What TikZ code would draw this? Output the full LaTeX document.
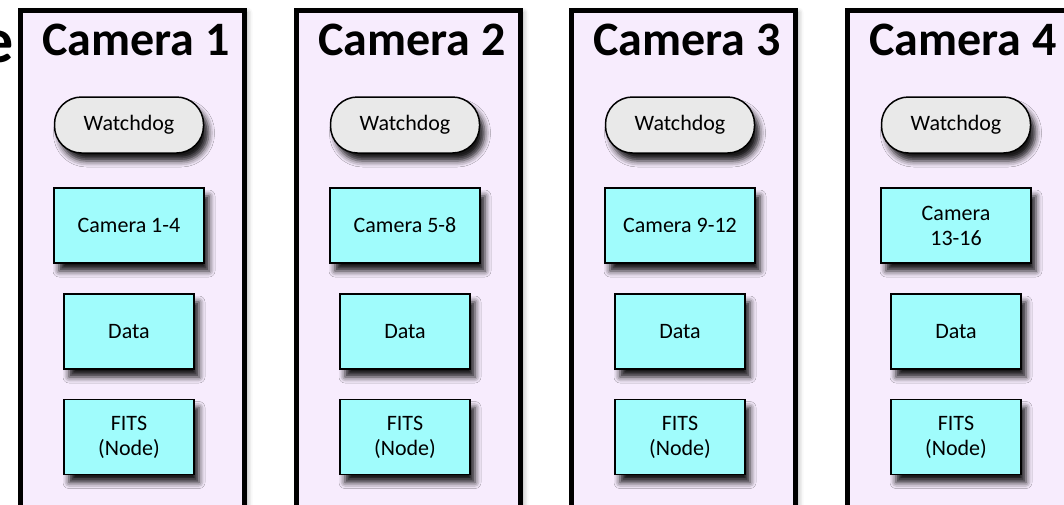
\documentclass[tikz,border=0pt]{standalone}
\usepackage{fontspec}
\setmainfont{Carlito}
\usetikzlibrary{shadows.blur}
\definecolor{panelfill}{RGB}{247,236,253}
\definecolor{boxfill}{RGB}{160,252,252}
\definecolor{wdfill}{RGB}{233,233,233}

\begin{document}
\begin{tikzpicture}[x=1pt,y=-1pt,
  panelbox/.style={draw=black,line width=5pt,fill=panelfill,
    blur shadow={shadow xshift=3pt,shadow yshift=-2pt,shadow blur radius=5pt,shadow opacity=35}},
  titlelabel/.style={font=\fontsize{48}{54}\selectfont\bfseries,anchor=base,inner sep=0pt},
  wdbox/.style={draw=black,line width=1.5pt,fill=wdfill,rounded corners=27pt,
    minimum width=149pt,minimum height=56pt,inner sep=0pt,font=\fontsize{22}{25}\selectfont,
    blur shadow={shadow xshift=5pt,shadow yshift=-8pt,shadow blur radius=6pt,shadow opacity=90}},
  cambox/.style={draw=black,line width=1.5pt,fill=boxfill,align=center,
    minimum width=150pt,minimum height=75pt,inner sep=0pt,font=\fontsize{22}{25}\selectfont,
    blur shadow={shadow xshift=5pt,shadow yshift=-8pt,shadow blur radius=6pt,shadow opacity=90}},
  databox/.style={cambox,minimum width=130pt}]
\useasboundingbox (0,0) rectangle (1064,504);
\clip (0,0) rectangle (1064,504);
%% slide text behind;
\node [font=\fontsize{64}{70}\selectfont\bfseries,anchor=base east,inner sep=0pt] (slidee) at (14,62) {e};

%% Camera 1;
\draw [panelbox] (20.5,10.5) rectangle (244.5,540);
\node [titlelabel] (title1) at (136,55) {Camera 1};
\node [wdbox] (wd1) at (129,125) {Watchdog};
\node [cambox] (cam1) at (129,225.5) {Camera 1-4};
\node [databox] (data1) at (129,331.5) {Data};
\node [databox] (fits1) at (129,437) {FITS\\(Node)};

%% Camera 2;
\draw [panelbox] (296.5,10.5) rectangle (520.5,540);
\node [titlelabel] (title2) at (412,55) {Camera 2};
\node [wdbox] (wd2) at (405,125) {Watchdog};
\node [cambox] (cam2) at (405,225.5) {Camera 5-8};
\node [databox] (data2) at (405,331.5) {Data};
\node [databox] (fits2) at (405,437) {FITS\\(Node)};

%% Camera 3;
\draw [panelbox] (571.5,10.5) rectangle (795.5,540);
\node [titlelabel] (title3) at (687,55) {Camera 3};
\node [wdbox] (wd3) at (680,125) {Watchdog};
\node [cambox] (cam3) at (680,225.5) {Camera 9-12};
\node [databox] (data3) at (680,331.5) {Data};
\node [databox] (fits3) at (680,437) {FITS\\(Node)};

%% Camera 4;
\draw [panelbox] (847.5,10.5) rectangle (1071.5,540);
\node [titlelabel] (title4) at (963,55) {Camera 4};
\node [wdbox] (wd4) at (956,125) {Watchdog};
\node [cambox] (cam4) at (956,225.5) {Camera\\13-16};
\node [databox] (data4) at (956,331.5) {Data};
\node [databox] (fits4) at (956,437) {FITS\\(Node)};

\end{tikzpicture}
\end{document}
